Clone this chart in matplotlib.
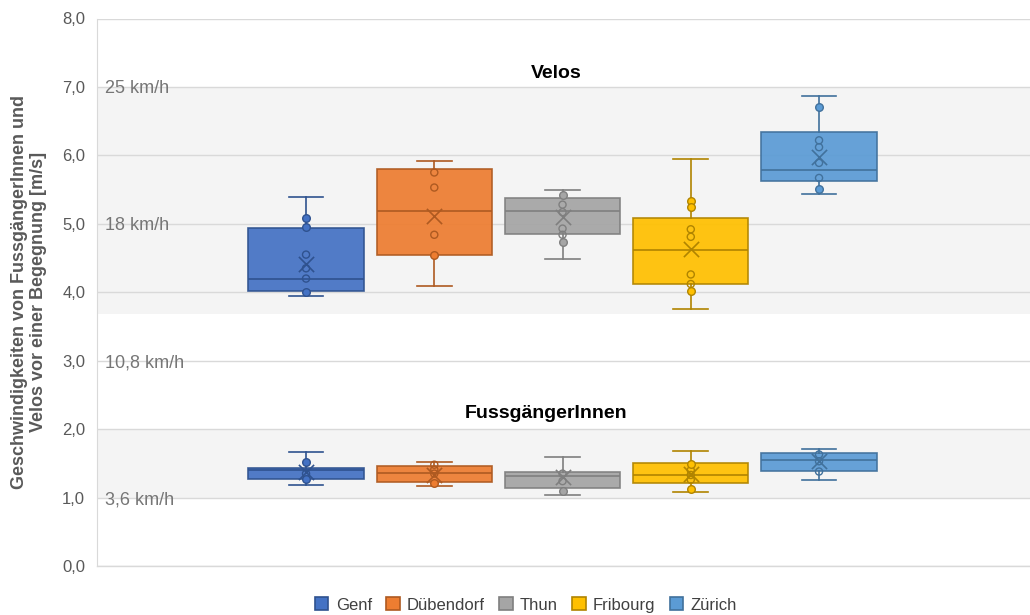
import matplotlib
matplotlib.use("Agg")
import matplotlib.pyplot as plt
from matplotlib.patches import Patch

plt.rcParams['font.family'] = ['Liberation Sans', 'DejaVu Sans']

cities = ["Genf", "Dübendorf", "Thun", "Fribourg", "Zürich"]
fill_colors = ["#4472C4", "#ED7D31", "#A5A5A5", "#FFC000", "#5B9BD5"]
edge_colors = ["#2F528F", "#AE5A21", "#7F7F7F", "#B08400", "#41719C"]

# Velos [m/s]
velo_whislo = [3.94, 4.09, 4.48, 3.75, 5.43]
velo_q1 = [4.02, 4.55, 4.85, 4.12, 5.63]
velo_med = [4.20, 5.19, 5.19, 4.62, 5.79]
velo_q3 = [4.94, 5.80, 5.38, 5.08, 6.34]
velo_whishi = [5.39, 5.92, 5.49, 5.95, 6.87]
velo_mean = [4.42, 5.12, 5.10, 4.63, 5.98]
velo_pts_open = [[4.55, 4.35, 4.20], [5.75, 5.53, 4.84], [5.28, 5.17, 4.93, 4.84],
                 [4.92, 4.81, 4.26, 4.12], [6.22, 6.12, 5.89, 5.67]]
velo_pts_solid = [[5.08, 4.95, 4.00], [4.54], [5.42, 4.73],
                  [5.33, 5.24, 4.02], [6.70, 5.51]]

# FussgängerInnen [m/s]
ped_whislo = [1.18, 1.17, 1.04, 1.08, 1.26]
ped_q1 = [1.27, 1.23, 1.14, 1.21, 1.39]
ped_med = [1.41, 1.355, 1.31, 1.325, 1.55]
ped_q3 = [1.43, 1.46, 1.38, 1.50, 1.65]
ped_whishi = [1.66, 1.515, 1.59, 1.685, 1.71]
ped_mean = [1.38, 1.33, 1.30, 1.34, 1.54]
ped_pts_open = [[1.35], [1.48, 1.41, 1.35], [1.35, 1.24], [1.40, 1.33, 1.26], [1.63, 1.53, 1.38]]
ped_pts_solid = [[1.52, 1.27], [1.22], [1.09], [1.49, 1.13], []]

speed_labels = ["25 km/h", "18 km/h", "10,8 km/h", "3,6 km/h"]
speed_values = [7.0, 5.0, 3.0, 1.0]

yticks = [0, 1, 2, 3, 4, 5, 6, 7, 8]

W, H = 1030, 615
fig = plt.figure(figsize=(W / 100, H / 100), dpi=100)
ax = fig.add_axes([97 / W, (H - 566) / H, 1 - 97 / W, (566 - 18.5) / H])

# shaded speed zones
ax.axhspan(3.68, 7.0, color="#F4F4F4", zorder=0, lw=0)
ax.axhspan(1.0, 2.0, color="#F4F4F4", zorder=0, lw=0)

ax.set_ylim(0, 8)
ax.set_xlim(-1.63, 5.645)
ax.set_yticks(yticks)
ax.set_yticklabels([f"{v:.1f}".replace(".", ",") for v in yticks], color="#595959", fontsize=12)
ax.tick_params(axis="y", length=0, pad=8.5)
ax.set_xticks([])
ax.grid(axis="y", color="#D9D9D9", lw=1, zorder=1)
ax.axhline(0, color="#D9D9D9", lw=1, zorder=1, clip_on=False)
ax.set_axisbelow(True)
for s in ["top", "right", "bottom"]:
    ax.spines[s].set_visible(False)
ax.spines["left"].set_color("#D9D9D9")

def draw_group(whislo, q1, med, q3, whishi, mean, pts_open, pts_solid):
    for i in range(len(cities)):
        st = [dict(whislo=whislo[i], q1=q1[i], med=med[i], q3=q3[i], whishi=whishi[i],
                   mean=mean[i], fliers=[])]
        ec = edge_colors[i]
        ax.bxp(st, positions=[i], widths=0.9, patch_artist=True, showmeans=False,
               showfliers=False, manage_ticks=False,
               boxprops=dict(facecolor=fill_colors[i], edgecolor=ec, lw=1.2, alpha=0.93),
               medianprops=dict(color=ec, lw=1.2),
               whiskerprops=dict(color=ec, lw=1.2),
               capprops=dict(color=ec, lw=1.2),
               capwidths=0.27, zorder=3)
        ax.scatter([i] * len(pts_open[i]), pts_open[i], s=26, facecolor="none",
                   edgecolor=ec, lw=1.0, zorder=4)
        ax.scatter([i] * len(pts_solid[i]), pts_solid[i], s=30, facecolor=fill_colors[i],
                   edgecolor=ec, lw=1.0, zorder=4)
        ax.scatter([i], [mean[i]], s=120, marker="x", color=ec, lw=1.2, zorder=5)

draw_group(velo_whislo, velo_q1, velo_med, velo_q3, velo_whishi, velo_mean,
           velo_pts_open, velo_pts_solid)
draw_group(ped_whislo, ped_q1, ped_med, ped_q3, ped_whishi, ped_mean,
           ped_pts_open, ped_pts_solid)

fig.text(556.5 / W, 1 - 73 / H, "Velos", ha="center", va="center", fontsize=14,
         fontweight="bold", color="black")
fig.text(546.5 / W, 1 - 413 / H, "FussgängerInnen", ha="center", va="center", fontsize=14,
         fontweight="bold", color="black")

for lab, v in zip(speed_labels, speed_values):
    ax.text(-1.57, v - 0.03, lab, ha="left", va="center", fontsize=13, color="#767676", zorder=2)

fig.text(29 / W, 0.525, "Geschwindigkeiten von FussgängerInnen und\nVelos vor einer Begegnung [m/s]",
         rotation=90, ha="center", va="center", fontsize=13, fontweight="bold",
         color="#595959", linespacing=1.2)

handles = [Patch(facecolor=fc, edgecolor=ec, lw=1.2) for fc, ec in zip(fill_colors, edge_colors)]
fig.legend(handles, cities, loc="center", bbox_to_anchor=(526 / W, 1 - 605 / H), ncol=5,
           frameon=False, fontsize=12, handlelength=0.8, handleheight=0.8,
           handletextpad=0.45, columnspacing=0.85, labelcolor="#404040",
           borderpad=0, borderaxespad=0)

fig.savefig("out.png", dpi=100)
